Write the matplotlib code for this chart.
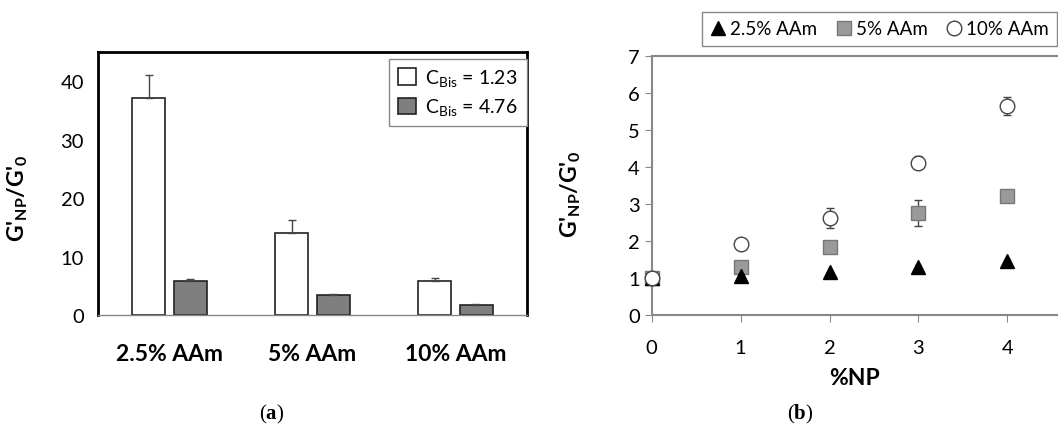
import numpy as np
import matplotlib.pyplot as plt

plt.rcParams['font.family'] = ['Lato', 'DejaVu Sans']
plt.rcParams['mathtext.fontset'] = 'custom'
plt.rcParams['mathtext.rm'] = 'Lato'
plt.rcParams['mathtext.bf'] = 'Lato:bold'
plt.rcParams['mathtext.sf'] = 'Liberation Serif:bold'

# (a) bar chart data
groups = ['2.5% AAm', '5% AAm', '10% AAm']
low_bis = [37.2, 14.0, 5.75]
low_bis_err = [3.8, 2.2, 0.5]
high_bis = [5.85, 3.45, 1.7]
high_bis_err = [0.35, 0.15, 0.1]

# (b) scatter data
np_pct = [0, 1, 2, 3, 4]
aam25 = [1.0, 1.05, 1.15, 1.3, 1.45]
aam25_err = [0.03, 0.05, 0.05, 0.06, 0.06]
aam5 = [1.0, 1.3, 1.83, 2.77, 3.22]
aam5_err = [0.05, 0.08, 0.1, 0.35, 0.12]
aam10 = [1.0, 1.91, 2.62, 4.12, 5.65]
aam10_err = [0.05, 0.13, 0.27, 0.17, 0.25]

fig = plt.figure(figsize=(10.58, 4.27), dpi=100)

# ---- panel (a)
ax1 = fig.add_axes([0.0926, 0.26, 0.4054, 0.616])
x = np.arange(len(groups))
w = 0.23
ax1.bar(x - 0.145, low_bis, w, color='white', edgecolor='#222222', linewidth=1.2,
        yerr=[np.zeros(3), low_bis_err], error_kw=dict(ecolor='#444444', elinewidth=1, capsize=3),
        label=r'C$_{\mathrm{Bis}}$ = 1.23')
ax1.bar(x + 0.145, high_bis, w, color='#7f7f7f', edgecolor='#222222', linewidth=1.2,
        yerr=[np.zeros(3), high_bis_err], error_kw=dict(ecolor='#444444', elinewidth=1, capsize=3),
        label=r'C$_{\mathrm{Bis}}$ = 4.76')
ax1.set_xlim(-0.5, 2.5)
ax1.set_ylim(0, 45)
ax1.set_yticks([0, 10, 20, 30, 40])
ax1.set_xticks(x)
ax1.set_xticklabels(groups, fontsize=16.5, fontweight='bold')
ax1.tick_params(axis='x', length=0, pad=20)
ax1.tick_params(axis='y', length=0, labelsize=14.5, pad=10)
for s in ['top', 'left', 'right']:
    ax1.spines[s].set_linewidth(2)
    ax1.spines[s].set_color('black')
ax1.spines['bottom'].set_color('#888888')
ax1.spines['bottom'].set_linewidth(1)
ax1.set_ylabel(r"G'$_{\mathbf{NP}}$/G'$_{\mathbf{0}}$", fontsize=16.5, fontweight='bold')
ax1.yaxis.set_label_coords(-0.158, 0.45)
leg1 = ax1.legend(loc='upper right', bbox_to_anchor=(1.0, 0.975), fontsize=14, fancybox=False,
                  edgecolor='#888888', framealpha=1, borderaxespad=0, handlelength=0.9,
                  handleheight=0.9, handletextpad=0.5, borderpad=0.45, labelspacing=0.4)
leg1.get_frame().set_linewidth(1)

# ---- panel (b)
ax2 = fig.add_axes([0.616, 0.26, 0.384, 0.606])
ax2.errorbar(np_pct, aam5, yerr=aam5_err, fmt='s', color='#9a9a9a', mec='#777777',
             ms=10, ecolor='#444444', elinewidth=1, capsize=3, label='5% AAm', zorder=3,
             clip_on=False)
ax2.errorbar(np_pct, aam25, yerr=aam25_err, fmt='^', color='black', ms=10,
             ecolor='black', elinewidth=1, capsize=2, label='2.5% AAm', zorder=4,
             clip_on=False)
ax2.errorbar(np_pct, aam10, yerr=aam10_err, fmt='o', mfc='white', mec='#444444', mew=1,
             ms=10.5, ecolor='#444444', elinewidth=1, capsize=3, label='10% AAm', zorder=5,
             clip_on=False)
ax2.set_xlim(0, 4.57)
ax2.set_ylim(0, 7)
ax2.set_xticks([0, 1, 2, 3, 4])
ax2.set_yticks(range(8))
ax2.tick_params(axis='both', labelsize=14.5, length=5, color='#888888')
ax2.tick_params(axis='x', pad=12)
ax2.spines['right'].set_visible(False)
for s in ['top', 'left', 'bottom']:
    ax2.spines[s].set_color('#888888')
    ax2.spines[s].set_linewidth(1.5)
ax2.set_xlabel('%NP', fontsize=16.5, fontweight='bold', labelpad=8)
ax2.set_ylabel(r"G'$_{\mathbf{NP}}$/G'$_{\mathbf{0}}$", fontsize=16.5, fontweight='bold')
ax2.yaxis.set_label_coords(-0.17, 0.47)
h, l = ax2.get_legend_handles_labels()
order = [1, 0, 2]
leg2 = fig.legend([h[i][0] for i in order], [l[i] for i in order], ncol=3,
                  loc='upper left', bbox_to_anchor=(702 / 1058, 1 - 13 / 427), fontsize=13.5,
                  fancybox=False, edgecolor='#888888', framealpha=1, borderaxespad=0,
                  handlelength=0.8, handletextpad=0.25, columnspacing=1.0, borderpad=0.45)
leg2.get_frame().set_linewidth(1)

# panel letters
fig.text(272 / 1058, 1 - 414 / 427, r'($\mathsf{a}$)', family='Liberation Serif',
         fontsize=15, ha='center', va='center')
fig.text(800 / 1058, 1 - 414 / 427, r'($\mathsf{b}$)', family='Liberation Serif',
         fontsize=15, ha='center', va='center')

fig.savefig('out.png', dpi=100)
